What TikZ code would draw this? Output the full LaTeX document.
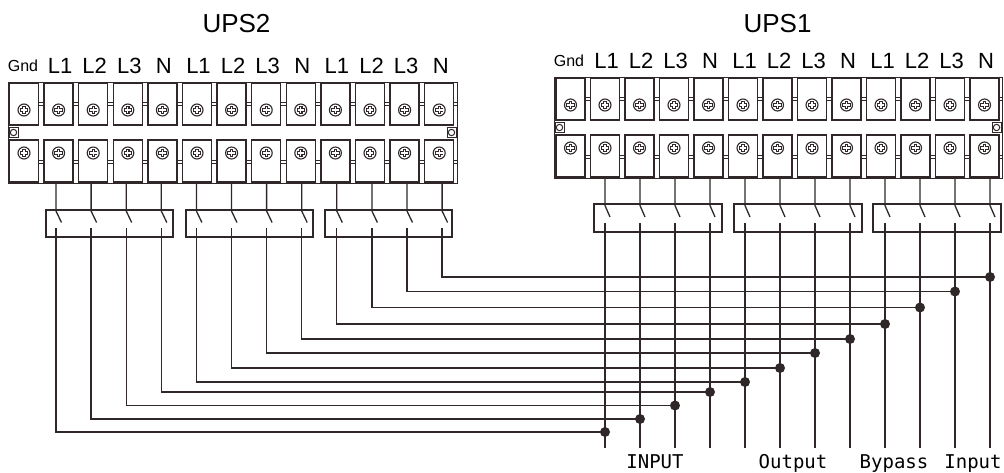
\documentclass[tikz,border=0pt]{standalone}
\usepackage{fontspec}
\setmainfont{Liberation Sans}
\newfontfamily\monofont{DejaVu Sans Mono}
\definecolor{ink}{RGB}{48,40,40}
\newcommand\screwmark[2]{%
  \draw[ink,line width=1.1pt,fill=white] (#1,#2) circle[radius=6pt];
  \draw[ink,line width=3.4pt] (#1-4.2,#2) -- (#1+4.2,#2) (#1,#2-4.2) -- (#1,#2+4.2);
  \draw[white,line width=1.3pt] (#1-3.3,#2) -- (#1+3.3,#2) (#1,#2-3.3) -- (#1,#2+3.3);
}
\newcommand\termblock[5]{% #1 xl, #2 xr, #3 ytop, #4 first terminal centre, #5 pitch
  \draw[frame] (#1,#3) rectangle (#2,#3+101);
  \draw[frame] (#1,#3+20) -- (#2,#3+20) (#1,#3+23) -- (#2,#3+23);
  \draw[frame] (#1,#3+78) -- (#2,#3+78) (#1,#3+81) -- (#2,#3+81);
  \foreach \k in {0,...,12}{
    \pgfmathsetmacro\tx{#4+#5*\k}
    \draw[term] (\tx-14.5,#3+1) rectangle (\tx+14.5,#3+43);
    \draw[term] (\tx-14.5,#3+58) rectangle (\tx+14.5,#3+100);
    \screwmark{\tx}{#3+28}
    \screwmark{\tx}{#3+71}
  }
  \draw[frame,fill=white] (#1+1,#3+45.5) rectangle (#1+10,#3+55.5);
  \draw[frame,line width=1pt] (#1+5.5,#3+50.5) circle[radius=3.2pt];
  \draw[frame,fill=white] (#2-1,#3+45.5) rectangle (#2-10,#3+55.5);
  \draw[frame,line width=1pt] (#2-5.5,#3+50.5) circle[radius=3.2pt];
}
\begin{document}
\begin{tikzpicture}[x=1pt,y=-1pt,
  wire/.style={draw=ink,line width=1.3pt},
  term/.style={draw=ink,fill=white,line width=1.3pt},
  frame/.style={draw=ink,line width=0.9pt},
  lbl/.style={font=\fontsize{22}{22}\selectfont,inner sep=0pt,anchor=base},
  gndlbl/.style={font=\fontsize{16}{16}\selectfont,inner sep=0pt,anchor=base},
  title/.style={font=\fontsize{26}{26}\selectfont,inner sep=0pt,anchor=base},
  blbl/.style={font=\monofont\fontsize{19}{19}\selectfont,inner sep=0pt,anchor=base},
  dot/.style={circle,fill=ink,draw=none,inner sep=0pt,minimum size=10pt},
  swbox/.style={draw=ink,line width=1.2pt},
]
\useasboundingbox (0,0) rectangle (1004,472);

% titles
\node[title] (t2) at (236.5,32) {UPS2};
\node[title] (t1) at (777.5,32) {UPS1};

% terminal blocks
\termblock{8}{457}{82}{24}{34.6}
\termblock{554}{1002}{77}{570.5}{34.5}

% terminal labels
\node[gndlbl] (g2) at (23,71.5) {Gnd};
\node[gndlbl] (g1) at (569,66) {Gnd};
\foreach \k/\t in {1/L1,2/L2,3/L3,4/N,5/L1,6/L2,7/L3,8/N,9/L1,10/L2,11/L3,12/N}{
  \node[lbl] (lb2-\k) at (24+34.6*\k+1.5,73.5) {\t};
  \node[lbl] (lb1-\k) at (570.5+34.5*\k+1.5,68.5) {\t};
}

% switch boxes
\draw[swbox] (46,210) rectangle (173,237);
\draw[swbox] (186,210) rectangle (313,237);
\draw[swbox] (325,210) rectangle (452,237);
\draw[swbox] (594,204) rectangle (722,232);
\draw[swbox] (734,204) rectangle (862,232);
\draw[swbox] (873,204) rectangle (1001,232);

% wires
\foreach \k/\lev in {1/432,2/419,3/405.5,4/392,5/382,6/368,7/353,8/339,9/324,10/307.5,11/291.5,12/277}{
  \pgfmathsetmacro\wa{56+35.1*(\k-1)}
  \pgfmathsetmacro\wb{605+35*(\k-1)}
  % UPS2 side
  \coordinate (a\k) at (\wa,182);
  \coordinate (s\k) at (\wa,211);
  \coordinate (r\k) at (\wa+5.5,222.5);
  \coordinate (u\k) at (\wa,228);
  % UPS1 side
  \coordinate (A\k) at (\wb,177);
  \coordinate (S\k) at (\wb,205.5);
  \coordinate (R\k) at (\wb+5,217);
  \coordinate (U\k) at (\wb,223);
  \coordinate (B\k) at (\wb,448);
  \coordinate (J\k) at (\wb,\lev);
  \draw[wire] (a\k) -- (s\k) -- (r\k);
  \draw[wire] (A\k) -- (S\k) -- (R\k);
  \draw[wire] (U\k) -- (B\k);
  \draw[wire] (u\k) |- (J\k);
}
\foreach \k in {1,...,12}{
  \node[dot] (d\k) at (J\k) {};
}

% bottom labels
\node[blbl] (inp) at (655,468) {INPUT};
\node[blbl] (outp) at (793,468) {Output};
\node[blbl] (byp) at (894,468) {Bypass};
\node[blbl] (inp2) at (973,468) {Input};
\end{tikzpicture}
\end{document}
